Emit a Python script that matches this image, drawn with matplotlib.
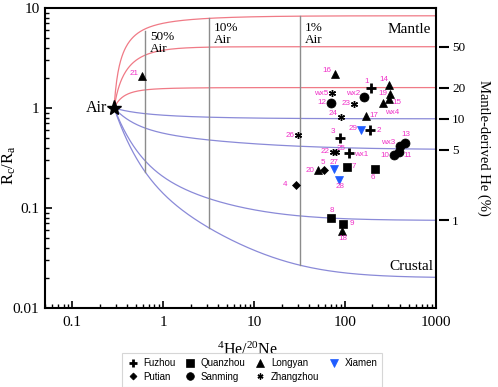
import numpy as np
import matplotlib
matplotlib.use("Agg")
import matplotlib.pyplot as plt
from matplotlib.ticker import FixedLocator, FixedFormatter, NullLocator, LogLocator, NullFormatter
from matplotlib.lines import Line2D

plt.rcParams['font.family'] = ['Liberation Serif', 'DejaVu Serif']
plt.rcParams['mathtext.fontset'] = 'stix'

# ---------------- data ----------------
fuzhou_ids = ['1', '2', '3', 'wx1']
fuzhou_x = [193, 190, 88, 111]
fuzhou_y = [1.58, 0.596, 0.50, 0.352]

putian_ids = ['4', '5']
putian_x = [28.7, 58.3]
putian_y = [0.170, 0.241]

quanzhou_ids = ['6', '7', '8', '9']
quanzhou_x = [214, 104, 70.7, 95.8]
quanzhou_y = [0.248, 0.26, 0.079, 0.0696]

sanming_ids = ['10', '11', '12', '13', 'wx2', 'wx3']
sanming_x = [346, 393, 70.7, 451, 162, 398]
sanming_y = [0.340, 0.364, 1.135, 0.447, 1.30, 0.419]

longyan_ids = ['14', '15', '16', '17', '18', '19', '20', '21', 'wx4']
longyan_x = [305, 305, 77.6, 170, 92.7, 313, 50.1, 0.589, 262]
longyan_y = [1.68, 1.236, 2.20, 0.836, 0.0592, 1.377, 0.238, 2.10, 1.12]

zhangzhou_ids = ['22', '23', '24', '25', '26', 'wx5']
zhangzhou_x = [73.3, 126, 90.4, 79.6, 30.6, 72]
zhangzhou_y = [0.367, 1.10, 0.822, 0.367, 0.531, 1.41]

xiamen_ids = ['27', '28', '29']
xiamen_x = [76.3, 86.6, 150]
xiamen_y = [0.244, 0.191, 0.603]

# air end-member and mixing-curve end-member ratios
air_x = 0.288
curve_end_R = [8.36, 4.1, 1.6, 0.78, 0.383, 0.075, 0.02]
mantle_pct_labels = ['50', '20', '10', '5', '1']
air_pct_labels = ['50%\nAir', '10%\nAir', '1%\nAir']
air_pct_x = [0.636, 3.18, 31.8]

# curve shape parameters (visual)
curve_k_far = [0.95, 1.8, 1.5, 0.75, 0.6, 0.95, 1.0]
curve_k_near = [1.06, 0.1, 1.8, 0.5, 1.0, 1.54, 1.7]

# label offsets in pixels (dx, dy)
label_off = {
    '1': (-4, 7), '2': (8, 0), '3': (-7, 7), 'wx1': (12, -1), '4': (-11, 0),
    '5': (-1, 7), '6': (-2, -9), '7': (7, 0), '8': (0, 8), '9': (8, 0),
    '10': (-9, -1), '11': (8, -4), '12': (-9, 0), '13': (1, 8), '14': (-5, 6),
    '15': (8, -4), '16': (-8, 3), '17': (8, 0), '18': (1, -8), '19': (-7, 1),
    '20': (-8, 0), '21': (-8, 2), '22': (-8, 0), '23': (-8, 0), '24': (-8, 3),
    '25': (5, 3), '26': (-8, 0), '27': (0, 7), '28': (1, -7), '29': (-8, 1),
    'wx2': (-11, 3), 'wx3': (-11, 3), 'wx4': (9, -9), 'wx5': (-11, 0),
}


def mix_curve(X, Re, kf, kn):
    l = np.log10(X / air_x)
    k = kf + kn * np.exp(-l / 0.6)
    return Re + (1 - Re) * (air_x / X) ** k


fig = plt.figure(figsize=(4.98, 3.87), dpi=100)
ax = fig.add_axes([45 / 498, 1 - 308 / 387, 391 / 498, 300 / 387])
ax.set_xscale('log')
ax.set_yscale('log')
ax.set_xlim(0.05, 1000)
ax.set_ylim(0.01, 10)

# mixing curves
Xg = np.logspace(np.log10(air_x), 3, 500)
for i, Re in enumerate(curve_end_R):
    col = '#f07a86' if Re > 1 else '#8a8ad8'
    ax.plot(Xg, mix_curve(Xg, Re, curve_k_far[i], curve_k_near[i]), color=col, lw=0.9, zorder=1)

# air-fraction vertical lines
for xv, lab in zip(air_pct_x, air_pct_labels):
    ylo = mix_curve(np.array([xv]), curve_end_R[-1], curve_k_far[-1], curve_k_near[-1])[0]
    yhi = mix_curve(np.array([xv]), curve_end_R[0], curve_k_far[0], curve_k_near[0])[0]
    if xv < 1:
        yhi *= 0.94
    ax.plot([xv, xv], [ylo, yhi], color='#8c8c8c', lw=1.0, zorder=1)
    ax.text(xv * 1.13, 7.3 if xv > 1 else 5.95, lab, fontsize=9.5, ha='left', va='top',
            linespacing=1.0, zorder=2)

# air star
ax.plot([air_x], [1], marker='*', color='black', ms=11, zorder=5, ls='none')
ax.annotate('Air', (air_x, 1), xytext=(-7, 0), textcoords='offset pixels',
            ha='right', va='center', fontsize=11.5)
ax.text(880, 6.06, 'Mantle', ha='right', va='center', fontsize=11)
ax.text(930, 0.0259, 'Crustal', ha='right', va='center', fontsize=11)

groups = [
    ('Fuzhou', fuzhou_ids, fuzhou_x, fuzhou_y, dict(marker='+', color='black', ms=7.5, mew=2.0)),
    ('Putian', putian_ids, putian_x, putian_y, dict(marker='D', color='black', ms=4.2, mew=0.5)),
    ('Quanzhou', quanzhou_ids, quanzhou_x, quanzhou_y, dict(marker='s', color='black', ms=6, mew=0.5)),
    ('Sanming', sanming_ids, sanming_x, sanming_y, dict(marker='o', color='black', ms=6.5, mew=0.5)),
    ('Longyan', longyan_ids, longyan_x, longyan_y, dict(marker='^', color='black', ms=6, mew=0.5)),
    ('Zhangzhou', zhangzhou_ids, zhangzhou_x, zhangzhou_y,
     dict(marker=(6, 2, 0), color='black', ms=5, mew=1.0)),
    ('Xiamen', xiamen_ids, xiamen_x, xiamen_y, dict(marker='v', color='#1f5cff', ms=6, mew=0.5)),
]

label_color = '#f030c8'
handles = []
for name, ids, xs, ys, style in groups:
    ax.plot(xs, ys, ls='none', zorder=4, **style)
    hstyle = dict(style)
    hstyle['ms'] = style['ms'] * 0.85
    handles.append(Line2D([], [], ls='none', label=name, **hstyle))
    for pid, xv, yv in zip(ids, xs, ys):
        dx, dy = label_off[pid]
        ax.annotate(pid, (xv, yv), xytext=(dx, dy), textcoords='offset pixels',
                    ha='center', va='center', fontsize=5.8, color=label_color,
                    family=['Liberation Sans', 'DejaVu Sans'], zorder=6)

# axes styling
for sp in ax.spines.values():
    sp.set_linewidth(1.5)
ax.xaxis.set_major_locator(FixedLocator([0.1, 1, 10, 100, 1000]))
ax.xaxis.set_major_formatter(FixedFormatter(['0.1', '1', '10', '100', '1000']))
ax.xaxis.set_minor_locator(LogLocator(base=10, subs=np.arange(2, 10), numticks=20))
ax.xaxis.set_minor_formatter(NullFormatter())
ax.yaxis.set_major_locator(FixedLocator([0.01, 0.1, 1, 10]))
ax.yaxis.set_major_formatter(FixedFormatter(['0.01', '0.1', '1', '10']))
ax.yaxis.set_minor_locator(LogLocator(base=10, subs=np.arange(2, 10), numticks=20))
ax.yaxis.set_minor_formatter(NullFormatter())
ax.tick_params(which='major', direction='in', length=5, width=1.2, labelsize=11,
               top=False, right=False)
ax.tick_params(which='minor', direction='in', length=3, width=1.0, top=False, right=False)
ax.tick_params(axis='x', which='major', pad=6)
ax.tick_params(axis='y', which='major', pad=4)

ax.set_xlabel(r'$\mathregular{^{4}He/^{20}Ne}$', fontsize=11.5)
ax.xaxis.set_label_coords(0.519, -0.113)
ax.set_ylabel(r'$\mathregular{R_c/R_a}$', fontsize=12)
ax.yaxis.set_label_coords(-0.068, 0.477)

# right axis (mantle-derived He)
ax2 = ax.twinx()
ax2.set_yscale('log')
ax2.set_ylim(ax.get_ylim())
for sp in ax2.spines.values():
    sp.set_visible(False)
ax2.spines['right'].set_position(('outward', 2.5))
ax2.yaxis.set_major_locator(FixedLocator(curve_end_R[1:6]))
ax2.yaxis.set_major_formatter(FixedFormatter(mantle_pct_labels))
ax2.yaxis.set_minor_locator(NullLocator())
ax2.tick_params(axis='y', which='major', direction='out', length=7, width=1.5,
                labelsize=9.5, pad=2)
ax2.set_ylabel('Mantle-derived He (%)', rotation=270, fontsize=10.5)
ax2.yaxis.set_label_coords(1.14, 0.533)

leg = fig.legend(handles=handles, loc='center', bbox_to_anchor=(0.506, 0.044), ncol=4,
                 prop={'family': ['Liberation Sans', 'DejaVu Sans'], 'size': 7},
                 frameon=True, fancybox=False, edgecolor='#cccccc', borderpad=0.5,
                 columnspacing=0.9, handletextpad=0.5, labelspacing=0.35, handlelength=1.2,
                 borderaxespad=0)
leg.get_frame().set_linewidth(0.8)

fig.savefig('out.png', dpi=100, facecolor='white')
